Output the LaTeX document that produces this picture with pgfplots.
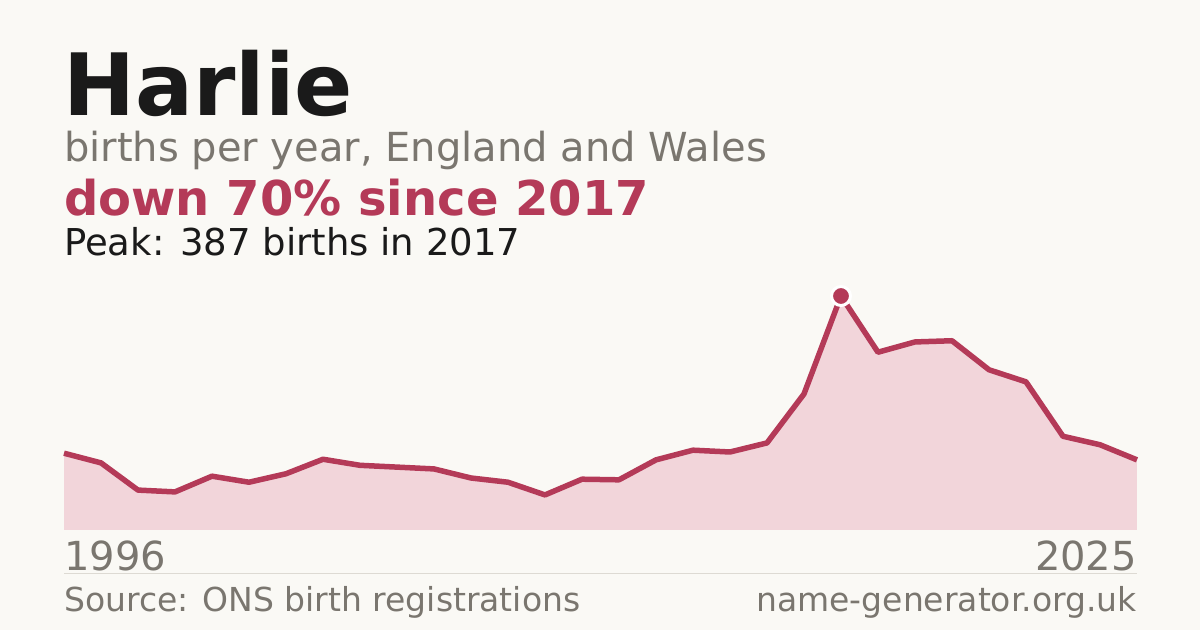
\documentclass[border=0pt]{standalone}
\usepackage{pgfplots}
\pgfplotsset{compat=1.18}
\usepackage{fontspec}
\setmainfont{DejaVu Sans}
\definecolor{bg}{HTML}{FAF9F5}
\definecolor{ink}{HTML}{1A1A1A}
\definecolor{muted}{HTML}{7A766F}
\definecolor{accent}{HTML}{B43A58}
\definecolor{areafill}{HTML}{F2D5DA}
\definecolor{rule}{HTML}{DDDAD3}

\pgfplotstableread{
year births
1996 127
1997 111
1998 66
1999 63
2000 89
2001 79
2002 93
2003 117
2004 107
2005 104
2006 101
2007 86
2008 79
2009 58
2010 84
2011 83
2012 116
2013 132
2014 129
2015 144
2016 225
2017 387
2018 294
2019 311
2020 313
2021 265
2022 245
2023 155
2024 141
2025 116
}\births

\begin{document}
\begin{tikzpicture}
\fill[bg] (0,0) rectangle (1200bp,630bp);
\useasboundingbox (0,0) rectangle (1200bp,630bp);

\node[anchor=base west, inner sep=0, text=ink, font=\fontsize{86bp}{86bp}\selectfont\bfseries] at (63bp,514bp) {Harlie};
\node[anchor=base west, inner sep=0, text=muted, font=\fontsize{40bp}{40bp}\selectfont] at (64bp,468bp) {births per year, England and Wales};
\node[anchor=base west, inner sep=0, text=accent, font=\fontsize{48bp}{48bp}\selectfont\bfseries] at (64bp,414bp) {down 70\% since 2017};
\node[anchor=base west, inner sep=0, text=ink, font=\fontsize{37bp}{37bp}\selectfont] at (64bp,374bp) {Peak: 387 births in 2017};

\begin{axis}[
  at={(64bp,100bp)}, anchor=south west,
  scale only axis, width=1073bp, height=234bp,
  xmin=1996, xmax=2025, ymin=0, ymax=387,
  hide axis, clip=false,
]
\addplot[draw=none, fill=areafill] table[x=year, y=births] {\births} \closedcycle;
\addplot[accent, line width=5.5bp, line join=round] table[x=year, y=births] {\births};
\addplot[only marks, mark=*, mark size=9.5bp, mark options={fill=accent, draw=white, line width=3bp}] coordinates {(2017,387)};
\end{axis}

\node[anchor=base west, inner sep=0, text=muted, font=\fontsize{40bp}{40bp}\selectfont] at (64bp,59bp) {1996};
\node[anchor=base east, inner sep=0, text=muted, font=\fontsize{40bp}{40bp}\selectfont] at (1137bp,59bp) {2025};
\draw[rule, line width=1bp] (64bp,56bp) -- (1137bp,56bp);
\node[anchor=base west, inner sep=0, text=muted, font=\fontsize{33bp}{33bp}\selectfont] at (64bp,19bp) {Source: ONS birth registrations};
\node[anchor=base east, inner sep=0, text=muted, font=\fontsize{33bp}{33bp}\selectfont] at (1137bp,19bp) {name-generator.org.uk};
\end{tikzpicture}
\end{document}
